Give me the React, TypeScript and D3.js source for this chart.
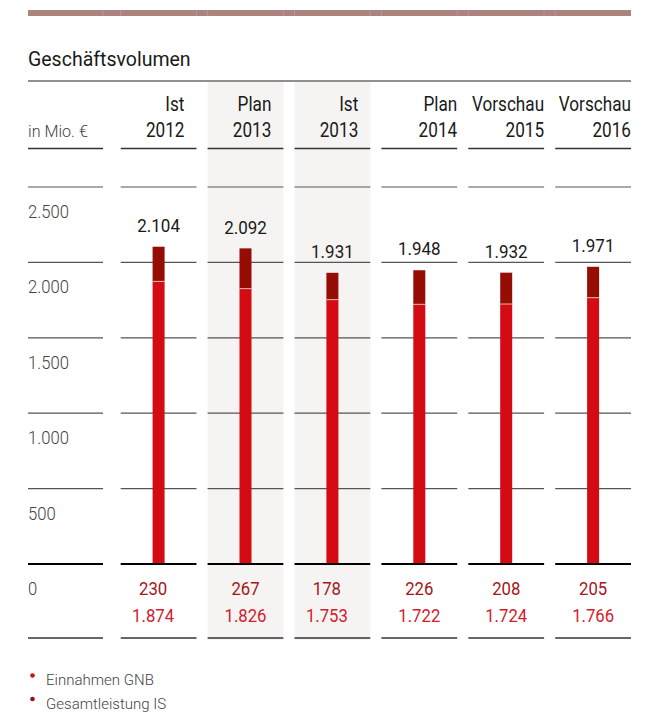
import React from "react";
import * as d3 from "d3";

const headerTop = ["Ist", "Plan", "Ist", "Plan", "Vorschau", "Vorschau"];
const headerYear = ["2012", "2013", "2013", "2014", "2015", "2016"];
const gesamtleistungIS = [1874, 1826, 1753, 1722, 1724, 1766];
const einnahmenGNB = [230, 267, 178, 226, 208, 205];
const totals = [2104, 2092, 1931, 1948, 1932, 1971];
const shadedColumns = [1, 2];
const yTicks = [0, 500, 1000, 1500, 2000, 2500];
const legendLabels = ["Einnahmen GNB", "Gesamtleistung IS"];

const W = 664;
const H = 722;
const FONT = "Roboto, 'Noto Sans', sans-serif";
const RED = "#d40b12";
const DARK = "#960d06";
const TXT = "#1a1a1a";
const GRAY = "#444";

const fmt = (v: number) => {
  const s = String(v);
  return s.length > 3 ? s.slice(0, s.length - 3) + "." + s.slice(s.length - 3) : s;
};

type TProps = {
  x: number;
  y: number;
  size: number;
  sx?: number;
  anchor?: "start" | "middle" | "end";
  fill?: string;
  weight?: number;
  children: React.ReactNode;
};

function T({ x, y, size, sx = 0.88, anchor = "start", fill = TXT, weight = 400, children }: TProps) {
  return (
    <text
      transform={`translate(${x},${y}) scale(${sx},1)`}
      fontSize={size}
      textAnchor={anchor}
      fill={fill}
      fontWeight={weight}
    >
      {children}
    </text>
  );
}

export default function App() {
  const keys = headerYear.map((y, i) => `${headerTop[i]} ${y}`);
  const x = d3.scaleBand<string>().domain(keys).range([120.7, 631]).paddingInner(0.128).paddingOuter(0);
  const y = d3.scaleLinear().domain([0, 2500]).range([564, 187]);
  const bw = x.bandwidth();
  const labelX0 = 28;
  const labelX1 = 103;
  const barW = 12;

  const segs: [number, number][] = [[labelX0, labelX1], ...keys.map((k) => [x(k)!, x(k)! + bw] as [number, number])];

  const boundaries: number[] = [];
  segs.forEach(([a, b], i) => {
    if (i > 0) boundaries.push(a);
    if (i < segs.length - 1) boundaries.push(b);
  });

  const hLines = (yy: number, stroke: string, sw: number, key: string) =>
    segs.map(([a, b], i) => (
      <line key={`${key}-${i}`} x1={a} x2={b} y1={yy} y2={yy} stroke={stroke} strokeWidth={sw} />
    ));

  return (
    <svg width={W} height={H} style={{ display: "block", position: "absolute", left: 0, top: 0 }} fontFamily={FONT}>
      <rect x={0} y={0} width={W} height={H} fill="#fff" />
      {/* top decorative bar */}
      <rect x={28} y={10} width={603} height={6} fill="#ab8480" />
      {boundaries.map((b, i) => (
        <line key={`tb${i}`} x1={b} x2={b} y1={10} y2={16} stroke="#bc9d9a" strokeWidth={0.8} />
      ))}
      {/* title */}
      <T x={28} y={66} size={19.5} sx={1.0}>Geschäftsvolumen</T>
      <line x1={28} x2={631} y1={81} y2={81} stroke="#222" strokeWidth={1.2} />

      {/* shaded columns */}
      {shadedColumns.map((i) => (
        <rect key={`sh${i}`} x={x(keys[i])!} y={82} width={bw} height={558} fill="#f5f4f2" />
      ))}

      {/* header */}
      <T x={28} y={137} size={17} sx={0.95} weight={300} fill={GRAY}>in Mio. €</T>
      {keys.map((k, i) => {
        const xr = x(k)! + bw - (i < 3 ? 12 : 0);
        return (
          <g key={`h${i}`}>
            <T x={xr} y={111} size={19.5} anchor="end">{headerTop[i]}</T>
            <T x={xr} y={137} size={19.5} anchor="end">{headerYear[i]}</T>
          </g>
        );
      })}
      {hLines(148.5, "#333", 1.5, "hl")}

      {/* gridlines */}
      {yTicks.filter((t) => t > 0).map((t) => hLines(y(t), "#555", 1.2, `g${t}`))}
      {yTicks.map((t) => (
        <T key={`yl${t}`} x={28} y={y(t) + 31} size={18.5} sx={0.9} weight={300} fill={GRAY}>
          {fmt(t)}
        </T>
      ))}

      {/* bars */}
      {keys.map((k, i) => {
        const cx = x(k)! + bw / 2;
        const yLow = y(gesamtleistungIS[i]);
        const yTop = y(gesamtleistungIS[i] + einnahmenGNB[i]);
        return (
          <g key={`b${i}`}>
            <rect x={cx - barW / 2} y={yLow} width={barW} height={y(0) - yLow} fill={RED} />
            <rect x={cx - barW / 2} y={yTop} width={barW} height={yLow - yTop} fill={DARK} />
            <line x1={cx - barW / 2} x2={cx + barW / 2} y1={yLow} y2={yLow} stroke="#f3b3b3" strokeWidth={1} />
            <T x={cx} y={y(totals[i]) - 15} size={18.5} sx={0.92} anchor="middle">
              {fmt(totals[i])}
            </T>
          </g>
        );
      })}

      {/* baseline */}
      {hLines(564, "#000", 2, "base")}

      {/* bottom values */}
      {keys.map((k, i) => {
        const cx = x(k)! + bw / 2 - (headerTop[i] === "Ist" ? 5.5 : 0);
        return (
          <g key={`bv${i}`}>
            <T x={cx} y={595} size={19} sx={0.88} anchor="middle" fill="#a5161a">{fmt(einnahmenGNB[i])}</T>
            <T x={cx} y={622} size={19} sx={0.88} anchor="middle" fill="#d2202c">{fmt(gesamtleistungIS[i])}</T>
          </g>
        );
      })}
      {hLines(638, "#333", 1.3, "bot")}

      {/* legend */}
      {legendLabels.map((l, i) => (
        <g key={`lg${i}`}>
          <circle cx={32.5} cy={675.5 + i * 23.5} r={2.3} fill={i === 0 ? "#d01018" : "#9a1010"} />
          <T x={46} y={685 + i * 23.5} size={15.5} sx={0.97} weight={300} fill={GRAY}>{l}</T>
        </g>
      ))}
    </svg>
  );
}
